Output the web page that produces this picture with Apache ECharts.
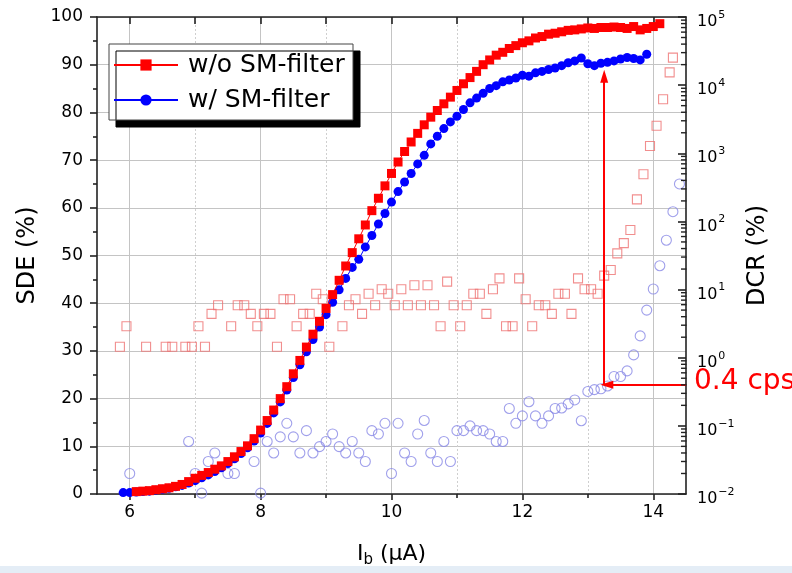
<!DOCTYPE html>
<html><head><meta charset="utf-8">
<script src="https://cdn.jsdelivr.net/npm/echarts@6/dist/echarts.min.js"></script>
<style>html,body{margin:0;padding:0;background:#fff}#c{width:792px;height:573px}</style>
</head><body><div id="c"></div>
<script>
// ---- data ----
const ibRed = [6.1,6.2,6.3,6.4,6.5,6.6,6.7,6.8,6.9,7.0,7.1,7.2,7.3,7.4,7.5,7.6,7.7,7.8,7.9,8.0,8.1,8.2,8.3,8.4,8.5,8.6,8.7,8.8,8.9,9.0,9.1,9.2,9.3,9.4,9.5,9.6,9.7,9.8,9.9,10.0,10.1,10.2,10.3,10.4,10.5,10.6,10.7,10.8,10.9,11.0,11.1,11.2,11.3,11.4,11.5,11.6,11.7,11.8,11.9,12.0,12.1,12.2,12.3,12.4,12.5,12.6,12.7,12.8,12.9,13.0,13.1,13.2,13.3,13.4,13.5,13.6,13.7,13.8,13.9,14.0,14.1];
const sdeRed = [0.5,0.6,0.7,0.9,1.1,1.3,1.6,2.0,2.6,3.3,
  3.9,4.5,5.2,5.9,6.8,7.8,8.9,10.1,11.6,13.4,
  15.4,17.6,20.0,22.5,25.2,28.0,30.8,33.5,36.2,38.9,
  41.8,44.8,47.8,50.6,53.5,56.4,59.4,62.0,64.6,67.2,
  69.6,71.8,73.8,75.6,77.4,79.0,80.4,81.8,83.2,84.6,
  86.0,87.3,88.6,90.0,91.0,92.0,92.6,93.4,94.0,94.6,
  95.0,95.6,95.9,96.4,96.6,96.9,97.2,97.3,97.5,97.7,
  97.6,97.8,97.8,97.9,97.8,97.6,98.0,97.3,97.6,98.0,
  98.6];
const ibBlue = [5.9,6.0,6.1,6.2,6.3,6.4,6.5,6.6,6.7,6.8,6.9,7.0,7.1,7.2,7.3,7.4,7.5,7.6,7.7,7.8,7.9,8.0,8.1,8.2,8.3,8.4,8.5,8.6,8.7,8.8,8.9,9.0,9.1,9.2,9.3,9.4,9.5,9.6,9.7,9.8,9.9,10.0,10.1,10.2,10.3,10.4,10.5,10.6,10.7,10.8,10.9,11.0,11.1,11.2,11.3,11.4,11.5,11.6,11.7,11.8,11.9,12.0,12.1,12.2,12.3,12.4,12.5,12.6,12.7,12.8,12.9,13.0,13.1,13.2,13.3,13.4,13.5,13.6,13.7,13.8,13.9];
const sdeBlue = [0.3,0.3,0.4,0.5,0.6,0.8,1.0,1.2,1.5,1.8,
  2.3,2.8,3.4,4.0,4.7,5.5,6.4,7.4,8.5,9.7,
  11.1,12.8,14.8,17.0,19.3,21.8,24.4,27.1,29.8,32.4,
  35.0,37.6,40.2,42.8,45.2,47.5,49.2,51.8,54.2,56.6,
  58.8,61.2,63.4,65.4,67.2,69.2,71.0,73.4,75.0,76.6,
  78.0,79.2,80.6,82.0,83.0,84.0,85.0,85.6,86.4,86.8,
  87.2,87.8,87.6,88.3,88.6,89.0,89.3,89.8,90.4,90.8,
  91.4,90.2,89.8,90.3,90.5,90.8,91.2,91.5,91.3,91.0,
  92.2];
const ibDcrRed = [5.85,5.95,6.25,6.55,6.65,6.85,6.95,7.05,7.15,7.25,7.35,7.55,7.65,7.75,7.85,7.95,8.05,8.15,8.25,8.35,8.45,8.55,8.65,8.75,8.85,8.95,9.05,9.25,9.35,9.45,9.55,9.65,9.75,9.85,9.95,10.05,10.15,10.25,10.35,10.45,10.55,10.65,10.75,10.85,10.95,11.05,11.15,11.25,11.35,11.45,11.55,11.65,11.75,11.85,11.95,12.05,12.15,12.25,12.35,12.45,12.55,12.65,12.75,12.85,12.95,13.05,13.15,13.25,13.35,13.45,13.55,13.65,13.75,13.85,13.95,14.05,14.15,14.25,14.3];
const dcrRed = [1.45,2.9,1.45,1.45,1.45,1.45,1.45,2.9,1.45,4.4,5.9,2.9,5.9,5.9,4.4,2.9,4.4,4.4,1.45,7.2,7.2,2.9,4.4,4.4,8.7,7.2,1.45,2.9,5.9,7.2,4.4,8.7,5.9,10.1,8.7,5.9,10.1,5.9,11.6,5.9,11.6,5.9,2.9,13.1,5.9,2.9,5.9,8.7,8.7,4.4,10.1,14.6,2.9,2.9,14.6,7.2,2.9,5.9,5.9,4.4,8.7,8.7,4.4,14.6,10.1,10.1,8.7,16.0,19.4,34,48,75,211,492,1280,2540,6200,15400,25300];
const ibDcrBlue = [6.0,6.9,7.0,7.1,7.2,7.3,7.5,7.6,7.9,8.0,8.1,8.2,8.3,8.4,8.5,8.6,8.7,8.8,8.9,9.0,9.1,9.2,9.3,9.4,9.5,9.6,9.7,9.8,9.9,10.0,10.1,10.2,10.3,10.4,10.5,10.6,10.7,10.8,10.9,11.0,11.1,11.2,11.3,11.4,11.5,11.6,11.7,11.8,11.9,12.0,12.1,12.2,12.3,12.4,12.5,12.6,12.7,12.8,12.9,13.0,13.1,13.2,13.3,13.4,13.5,13.6,13.7,13.8,13.9,14.0,14.1,14.2,14.3,14.4];
const dcrBlue = [0.020,0.059,0.020,0.0103,0.030,0.040,0.020,0.020,0.030,0.0103,0.059,0.040,0.069,0.109,0.069,0.040,0.085,0.040,0.0495,0.059,0.076,0.0495,0.040,0.059,0.040,0.030,0.085,0.076,0.109,0.020,0.109,0.040,0.030,0.076,0.12,0.040,0.030,0.059,0.030,0.085,0.085,0.10,0.085,0.085,0.076,0.059,0.059,0.18,0.109,0.14,0.226,0.14,0.109,0.14,0.18,0.183,0.21,0.24,0.119,0.32,0.34,0.35,0.385,0.53,0.53,0.64,1.10,2.09,5.0,10.2,22.4,53,139,355];
const xMajorTicks = [6,8,10,12,14];
const xMinorTicks = [7,9,11,13];
const xAllTicks = [6,7,8,9,10,11,12,13,14];
const logDecades = [0.01,0.1,1,10,100,1000,10000];
const logMinorMultipliers = [2,3,4,5,6,7,8,9];
const seriesNames = ['w/o SM-filter','w/ SM-filter'];
// annotation: 0.4 cps level and arrow positions
const cpsLevel = 0.4;
const arrowIb = 13.25;
const arrowTipIb = 13.29;
const arrowBottomSde = 22.9;
const arrowTopSde = 87.6;
const xMax = 14.5;

// ---- chart ----
const FONT = 'DejaVu Sans';
const pairs = (xs, ys) => xs.map((x, i) => [x, ys[i]]);
const logMinorValues = [];
logDecades.forEach(d => logMinorMultipliers.forEach(m => logMinorValues.push([xMax, d * m])));
const chart = echarts.init(document.getElementById('c'), null, {renderer: 'canvas'});
const axisLineStyle = {color: '#222', width: 1.6};
const tickStyle = {color: '#222', width: 1.6};
const option = {
  animation: false,
  backgroundColor: '#fff',
  textStyle: {fontFamily: FONT},
  grid: {left: 97, right: 106, top: 17, bottom: 79},
  legend: {
    data: seriesNames,
    orient: 'vertical',
    left: 109, top: 44,
    padding: [6, 5, 5, 4],
    itemGap: 5,
    itemWidth: 64, itemHeight: 14,
    backgroundColor: '#fff',
    borderColor: '#444', borderWidth: 1,
    shadowColor: '#000', shadowBlur: 0, shadowOffsetX: 7, shadowOffsetY: 7,
    textStyle: {fontFamily: FONT, fontSize: 25, color: '#000', lineHeight: 30, width: 160, padding: [0, 0, 0, 5]}
  },
  xAxis: [{
    type: 'value', min: 5.5, max: xMax, position: 'bottom',
    name: '{i|I}{s|b}{i| (μA)}', nameLocation: 'middle', nameGap: 47,
    nameTextStyle: {rich: {
      i: {fontFamily: FONT, fontSize: 22, color: '#000'},
      s: {fontFamily: FONT, fontSize: 15, color: '#000', padding: [12, 0, 0, 0]}
    }},
    axisLine: {show: true, lineStyle: axisLineStyle},
    axisTick: {show: true, inside: false, length: 6, customValues: xMajorTicks, lineStyle: tickStyle},
    axisLabel: {customValues: xMajorTicks, fontSize: 17, color: '#000', margin: 10, fontFamily: FONT},
    splitLine: {show: true, lineStyle: {color: '#c4c4c4', width: 1}}
  }, {
    type: 'value', min: 5.5, max: xMax, position: 'bottom',
    axisLine: {show: false},
    axisTick: {show: true, inside: false, length: 4, customValues: xMinorTicks, lineStyle: tickStyle},
    axisLabel: {show: false},
    splitLine: {show: true, lineStyle: {color: '#cfcfcf', width: 1, type: [2, 2]}}
  }, {
    type: 'value', min: 5.5, max: xMax, position: 'top',
    axisLine: {show: true, lineStyle: axisLineStyle},
    axisTick: {show: true, inside: true, length: 7, customValues: xAllTicks, lineStyle: tickStyle},
    axisLabel: {show: false},
    splitLine: {show: false}
  }],
  yAxis: [{
    type: 'value', min: 0, max: 100, interval: 10, position: 'left',
    name: 'SDE (%)', nameLocation: 'middle', nameGap: 55,
    nameTextStyle: {fontFamily: FONT, fontSize: 24, color: '#000'},
    axisLine: {show: true, lineStyle: axisLineStyle},
    axisTick: {show: true, inside: false, length: 7, lineStyle: tickStyle},
    minorTick: {show: true, splitNumber: 2, length: 4, lineStyle: tickStyle},
    axisLabel: {fontSize: 17, color: '#000', margin: 14, fontFamily: FONT},
    splitLine: {show: true, lineStyle: {color: '#c4c4c4', width: 1}}
  }, {
    type: 'log', logBase: 10, min: 0.01, max: 100000, splitNumber: 7, position: 'right',
    name: 'DCR (%)', nameLocation: 'middle', nameGap: 57,
    nameTextStyle: {fontFamily: FONT, fontSize: 24, color: '#000'},
    axisLine: {show: true, lineStyle: axisLineStyle},
    axisTick: {show: true, inside: true, length: 8, lineStyle: tickStyle},
    axisLabel: {
      margin: 11,
      formatter: function (v) {
        const e = Math.round(Math.log10(v));
        return '{b|10}{s|' + (e < 0 ? '\u2212' + (-e) : String(e)) + '}';
      },
      rich: {
        b: {fontFamily: FONT, fontSize: 16, color: '#000', padding: [10, 0, 0, 0]},
        s: {fontFamily: FONT, fontSize: 11, color: '#000', padding: [0, 0, 4, 1]}
      }
    },
    splitLine: {show: false}
  }],
  series: [{
    name: 'DCR w/o', type: 'scatter', xAxisIndex: 0, yAxisIndex: 1,
    data: pairs(ibDcrRed, dcrRed),
    symbol: 'rect', symbolSize: 9,
    itemStyle: {color: 'rgba(0,0,0,0)', borderColor: '#EE7272', borderWidth: 1.1},
    z: 2
  }, {
    name: 'DCR w/', type: 'scatter', xAxisIndex: 0, yAxisIndex: 1,
    data: pairs(ibDcrBlue, dcrBlue),
    symbol: 'circle', symbolSize: 10,
    itemStyle: {color: 'rgba(0,0,0,0)', borderColor: '#8888E6', borderWidth: 1.1},
    z: 2,
    markLine: {
      silent: true, animation: false,
      symbol: ['none', 'triangle'], symbolSize: [8, 13],
      lineStyle: {color: '#FF0000', width: 2, type: 'solid'},
      label: {show: false},
      data: [[{coord: [xMax, cpsLevel]}, {coord: [arrowTipIb, cpsLevel]}]]
    }
  }, {
    name: seriesNames[1], type: 'line', xAxisIndex: 0, yAxisIndex: 0,
    data: pairs(ibBlue, sdeBlue),
    symbol: 'circle', symbolSize: 9, showAllSymbol: true,
    itemStyle: {color: '#0000FF'},
    lineStyle: {color: '#0000FF', width: 1},
    z: 3,
    markLine: {
      silent: true, animation: false,
      symbol: ['none', 'triangle'], symbolSize: [8, 13],
      lineStyle: {color: '#FF0000', width: 2, type: 'solid'},
      label: {show: false},
      data: [[{coord: [arrowIb, arrowBottomSde]}, {coord: [arrowIb, arrowTopSde]}]]
    }
  }, {
    name: seriesNames[0], type: 'line', xAxisIndex: 0, yAxisIndex: 0,
    data: pairs(ibRed, sdeRed),
    symbol: 'rect', symbolSize: 9, showAllSymbol: true,
    itemStyle: {color: '#FF0000'},
    lineStyle: {color: '#FF0000', width: 1},
    z: 4
  }, {
    // minor log ticks (2..9 per decade) drawn on the right log axis
    name: 'logMinorTicks', type: 'custom', xAxisIndex: 0, yAxisIndex: 1,
    silent: true, clip: false, z: 6,
    data: logMinorValues,
    renderItem: function (params, api) {
      const p = api.coord([api.value(0), api.value(1)]);
      return {
        type: 'line',
        shape: {x1: p[0] - 5, y1: p[1], x2: p[0] + 0.5, y2: p[1]},
        style: {stroke: '#222', lineWidth: 1.4}
      };
    }
  }],
  graphic: [{
    type: 'rect', left: 0, top: 566, z: -10, silent: true,
    shape: {width: 792, height: 7},
    style: {fill: '#e4edf6'}
  }, {
    type: 'text', left: 694, top: 368, z: 10,
    style: {text: '0.4 cps', fill: '#FF0000', font: '28px "DejaVu Sans"'}
  }]
};
chart.setOption(option);
</script>
</body></html>
